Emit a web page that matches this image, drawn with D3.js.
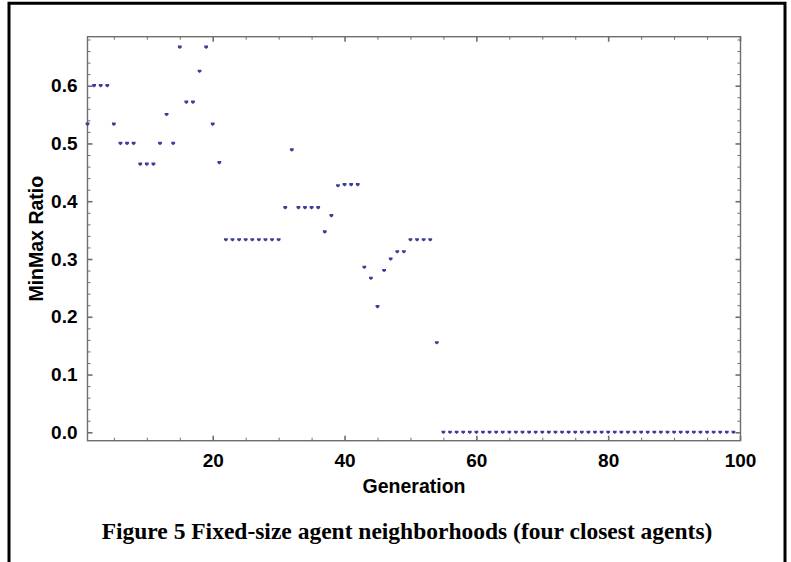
<!DOCTYPE html>
<html>
<head>
<meta charset="utf-8">
<script src="https://cdn.jsdelivr.net/npm/d3@7/dist/d3.min.js"></script>
<style>
html,body{margin:0;padding:0;background:#fff;}
svg{display:block;}
</style>
</head>
<body>
<svg id="chart" width="791" height="562"></svg>
<script>
// ---- data ----
const generations = [1,2,3,4,5,6,7,8,9,10,11,12,13,14,15,16,17,18,19,20,
  21,22,23,24,25,26,27,28,29,30,31,32,33,34,35,36,37,38,39,40,
  41,42,43,44,45,46,47,48,49,50,51,52,53,54,55,56,57,58,59,60,
  61,62,63,64,65,66,67,68,69,70,71,72,73,74,75,76,77,78,79,80,
  81,82,83,84,85,86,87,88,89,90,91,92,93,94,95,96,97,98,99];
const minMaxRatio = [0.5333,0.6,0.6,0.6,0.5333,0.5,0.5,0.5,0.4643,0.4643,
  0.4643,0.5,0.55,0.5,0.6667,0.5714,0.5714,0.625,0.6667,0.5333,
  0.4667,0.3333,0.3333,0.3333,0.3333,0.3333,0.3333,0.3333,0.3333,0.3333,
  0.3889,0.4889,0.3889,0.3889,0.3889,0.3889,0.347,0.375,0.4267,0.4286,
  0.4286,0.4286,0.2857,0.2667,0.2174,0.28,0.3,0.3125,0.3125,0.3333,
  0.3333,0.3333,0.3333,0.155,0,0,0,0,0,0,
  0,0,0,0,0,0,0,0,0,0,
  0,0,0,0,0,0,0,0,0,0,
  0,0,0,0,0,0,0,0,0,0,
  0,0,0,0,0,0,0,0,0];
const xMajorTicks = [20,40,60,80,100];
const xMinorTicks = [5,10,15,25,30,35,45,50,55,65,70,75,85,90,95];
const yMajorTicks = [0.0,0.1,0.2,0.3,0.4,0.5,0.6];
const yMinorTicks = [0.02,0.04,0.06,0.08,0.12,0.14,0.16,0.18,0.22,0.24,0.26,0.28,
  0.32,0.34,0.36,0.38,0.42,0.44,0.46,0.48,0.52,0.54,0.56,0.58,0.62,0.64,0.66,0.68];
const xTitle = "Generation";
const yTitle = "MinMax Ratio";
const caption = "Figure 5 Fixed-size agent neighborhoods (four closest agents)";

// ---- layout ----
const svg = d3.select("#chart");
const L = 87.5, R = 740.5, T = 36.7, B = 440.7;
const x = d3.scaleLinear().domain([1, 100]).range([L, 740]);
const y = d3.scaleLinear().domain([-0.01454, 0.6848]).range([B, T]);
const axisColor = "#6e6e6e";
const font = "'Liberation Sans', Arial, sans-serif";

// outer figure border (left, top, right)
svg.append("path")
  .attr("d", `M9,565 V3.2 H785 V565`)
  .attr("fill", "none").attr("stroke", "#000").attr("stroke-width", 3);

// frame
const g = svg.append("g");
g.append("rect").attr("x", L).attr("y", T).attr("width", R - L).attr("height", B - T)
  .attr("fill", "none").attr("stroke", axisColor).attr("stroke-width", 1.4);

function styleAxis(sel) {
  sel.select(".domain").remove();
  sel.selectAll(".tick line").attr("stroke", axisColor);
  sel.selectAll("text").attr("font-family", font).attr("font-weight", "bold")
    .attr("font-size", 19).attr("fill", "#000");
}
// bottom
const xAxisMajor = d3.axisBottom(x).tickValues(xMajorTicks).tickSize(-5).tickPadding(13).tickFormat(d3.format("d"));
const xAxisMinor = d3.axisBottom(x).tickValues(xMinorTicks).tickSize(-3).tickFormat("");
g.append("g").attr("transform", `translate(0,${B})`).call(xAxisMajor).call(styleAxis)
  .selectAll(".tick line").attr("stroke-width", 1.6);
g.append("g").attr("transform", `translate(0,${B})`).call(xAxisMinor).call(styleAxis);
// top
g.append("g").attr("transform", `translate(0,${T})`).call(d3.axisTop(x).tickValues(xMajorTicks).tickSize(-5).tickFormat("")).call(styleAxis)
  .selectAll(".tick line").attr("stroke-width", 1.6);
g.append("g").attr("transform", `translate(0,${T})`).call(d3.axisTop(x).tickValues(xMinorTicks).tickSize(-3).tickFormat("")).call(styleAxis);
// left
const yAxisMajor = d3.axisLeft(y).tickValues(yMajorTicks).tickSize(-5).tickPadding(10).tickFormat(d3.format(".1f"));
g.append("g").attr("transform", `translate(${L},0)`).call(yAxisMajor).call(styleAxis)
  .selectAll(".tick line").attr("stroke-width", 1.6);
g.append("g").attr("transform", `translate(${L},0)`).call(d3.axisLeft(y).tickValues(yMinorTicks).tickSize(-3).tickFormat("")).call(styleAxis);
// right
g.append("g").attr("transform", `translate(${R},0)`).call(d3.axisRight(y).tickValues(yMajorTicks).tickSize(-5).tickFormat("")).call(styleAxis)
  .selectAll(".tick line").attr("stroke-width", 1.6);
g.append("g").attr("transform", `translate(${R},0)`).call(d3.axisRight(y).tickValues(yMinorTicks).tickSize(-3).tickFormat("")).call(styleAxis);

// points
const pts = generations.map((gen, i) => ({gen, v: minMaxRatio[i]}));
g.append("g").selectAll("path.pt").data(pts).join("path")
  .attr("class", "pt")
  .attr("transform", d => `translate(${x(d.gen)},${y(d.v)})`)
  .attr("d", "M-1.9,-1.6 H1.9 V0.3 L0,1.8 L-1.9,0.3 Z")
  .attr("fill", "#3d3d99");

// axis titles
svg.append("text").attr("x", (L + R) / 2).attr("y", 493)
  .attr("text-anchor", "middle").attr("font-family", font).attr("font-weight", "bold")
  .attr("font-size", 19.5).attr("fill", "#000").text(xTitle);
svg.append("text").attr("transform", `translate(43,${(T + B) / 2}) rotate(-90)`)
  .attr("text-anchor", "middle").attr("font-family", font).attr("font-weight", "bold")
  .attr("font-size", 19.5).attr("fill", "#000").text(yTitle);

// caption
svg.append("text").attr("x", 407).attr("y", 539)
  .attr("text-anchor", "middle").attr("font-family", "'Liberation Serif', 'Times New Roman', serif")
  .attr("font-weight", "bold").attr("font-size", 23.5).attr("fill", "#000").text(caption);
</script>
</body>
</html>
